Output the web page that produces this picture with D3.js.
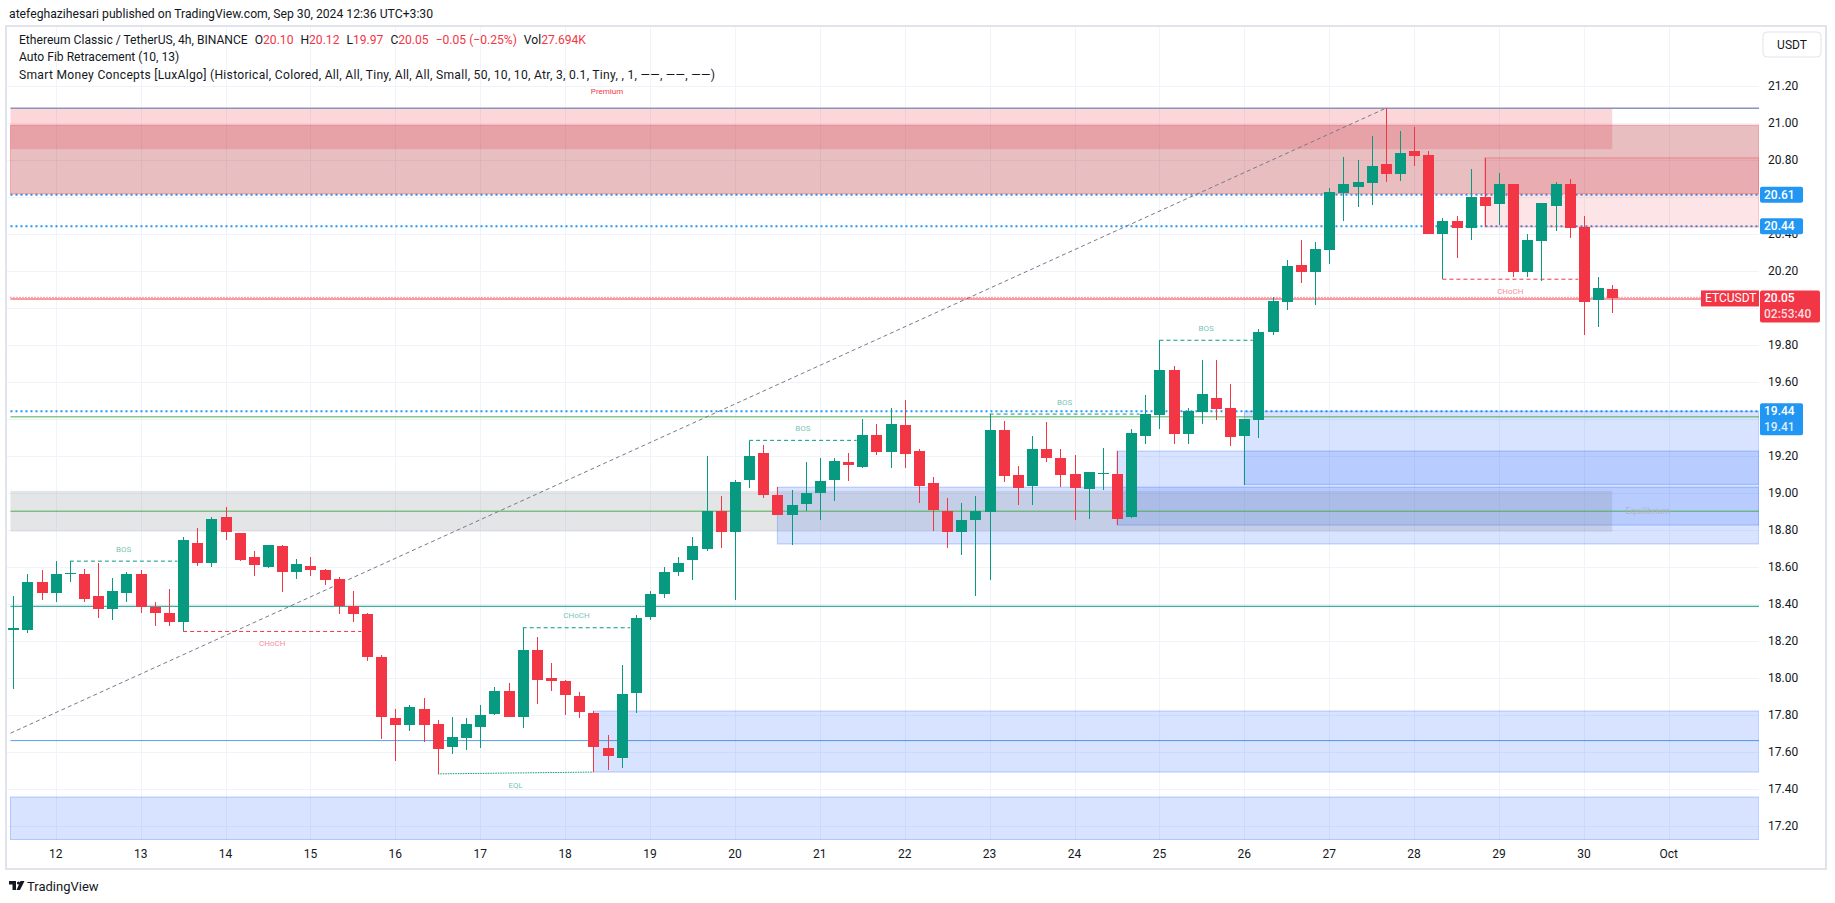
<!DOCTYPE html>
<html>
<head>
<meta charset="utf-8">
<script src="https://cdn.jsdelivr.net/npm/d3@7"></script>
<style>
  body { margin: 0; background: #fff; }
  svg text { font-family: Roboto, "Noto Sans", sans-serif; white-space: pre; }
</style>
</head>
<body>
<svg id="chart" width="1835" height="903"></svg>
<script>
// ETC/USDT 4h candles, Sep 11 - Sep 30
const opens = [18.26,18.26,18.52,18.46,18.56,18.56,18.44,18.37,18.46,18.56,18.38,18.35,18.30,18.73,18.62,18.87,18.78,18.65,18.60,18.71,
  18.57,18.605,18.58,18.535,18.39,18.345,18.11,17.78,17.745,17.83,17.75,17.625,17.675,17.735,17.805,17.93,17.79,18.15,18.00,17.98,
  17.90,17.81,17.62,17.565,17.915,18.33,18.45,18.57,18.635,18.695,18.90,18.79,19.07,19.215,18.99,18.88,18.94,19.00,19.07,19.165,
  19.14,19.31,19.22,19.365,19.225,19.05,18.90,18.79,18.855,18.895,19.34,19.095,19.035,19.235,19.19,19.10,19.02,19.10,19.10,18.87,
  19.305,19.42,19.665,19.315,19.435,19.51,19.46,19.305,19.395,19.87,20.03,20.23,20.195,20.31,20.62,20.652,20.673,20.776,20.722,20.845,
  20.824,20.397,20.468,20.43,20.597,20.56,20.668,20.192,20.36,20.549,20.668,20.435,20.043,20.10];
const highs = [18.44,18.56,18.58,18.63,18.63,18.59,18.62,18.54,18.57,18.58,18.41,18.48,18.76,18.81,18.87,18.92,18.78,18.685,18.72,18.72,
  18.64,18.65,18.59,18.545,18.47,18.35,18.12,17.83,17.85,17.89,17.77,17.79,17.78,17.85,17.95,17.97,18.27,18.22,18.08,17.99,
  17.92,17.82,17.69,18.07,18.34,18.47,18.60,18.65,18.76,19.20,18.98,19.07,19.28,19.26,19.03,19.015,19.165,19.19,19.19,19.215,
  19.40,19.37,19.46,19.50,19.235,19.085,18.97,18.945,18.98,19.425,19.39,19.145,19.305,19.38,19.235,19.205,19.11,19.24,19.225,19.345,
  19.53,19.825,19.685,19.46,19.72,19.72,19.59,19.40,19.885,20.06,20.26,20.365,20.354,20.646,20.813,20.796,20.93,21.078,20.955,20.976,
  20.845,20.484,20.495,20.75,20.81,20.727,20.668,20.397,20.565,20.68,20.695,20.495,20.165,20.12];
const lows = [17.94,18.24,18.42,18.41,18.52,18.41,18.32,18.31,18.41,18.35,18.28,18.28,18.25,18.605,18.60,18.745,18.63,18.55,18.595,18.465,
  18.535,18.55,18.50,18.345,18.30,18.09,17.67,17.55,17.71,17.655,17.48,17.59,17.61,17.62,17.80,17.79,17.73,17.86,17.93,17.80,
  17.78,17.49,17.50,17.51,17.81,18.31,18.43,18.55,18.53,18.685,18.70,18.42,19.025,18.97,18.88,18.72,18.90,18.85,18.955,19.065,
  19.135,19.205,19.135,19.135,18.945,18.795,18.70,18.665,18.44,18.53,19.06,18.935,18.935,19.165,19.03,18.85,18.86,19.015,18.825,18.865,
  19.265,19.345,19.265,19.265,19.37,19.395,19.25,19.04,19.295,19.85,19.99,20.135,20.015,20.235,20.468,20.544,20.555,20.68,20.684,20.765,
  20.397,20.154,20.268,20.365,20.435,20.446,20.165,20.165,20.143,20.414,20.376,19.85,19.895,19.97];
const closes = [18.27,18.52,18.46,18.56,18.565,18.425,18.37,18.47,18.56,18.38,18.35,18.30,18.745,18.62,18.86,18.79,18.635,18.61,18.72,18.57,
  18.615,18.58,18.53,18.39,18.345,18.11,17.79,17.745,17.84,17.745,17.615,17.68,17.75,17.80,17.93,17.79,18.15,17.99,17.98,17.905,
  17.815,17.625,17.575,17.91,18.32,18.45,18.57,18.62,18.71,18.90,18.79,19.06,19.20,18.99,18.88,18.935,19.00,19.065,19.17,19.15,
  19.31,19.22,19.37,19.21,19.035,18.905,18.79,18.85,18.90,19.34,19.09,19.025,19.235,19.19,19.095,19.025,19.11,19.105,18.86,19.32,
  19.425,19.665,19.315,19.44,19.535,19.455,19.30,19.40,19.87,20.035,20.225,20.195,20.316,20.624,20.668,20.678,20.765,20.722,20.835,20.82,
  20.397,20.468,20.43,20.597,20.549,20.668,20.192,20.365,20.565,20.668,20.43,20.03,20.107,20.05];

// time axis: a day label every 6 bars, first one on bar 3
const dayLabels = ["12","13","14","15","16","17","18","19","20","21","22","23","24","25","26","27","28","29","30","Oct"];
const priceTicks = d3.range(17.2, 21.21, 0.2);
// ticks covered by the price tags on the axis
const hiddenTicks = ["20.60", "20.00", "19.40"];

// boxes: [fromBar, toBar (null = right edge), top price, bottom price]
const premiumBox = [-0.2, 113, 21.078, 20.857];
const equilibriumBox = [-0.2, 113, 19.01, 18.79];
const bearBoxes = [[-0.2, null, 20.987, 20.615], [104, null, 20.81, 20.437]];
const bullBoxes = [[54, null, 19.03, 18.723], [78, null, 19.225, 18.825], [87, null, 19.44, 19.045],
  [41, null, 17.82, 17.49], [-0.2, null, 17.355, 17.125]];

// structure breaks: [fromBar, toBar, fromPrice, toPrice, label, bullish]
const structures = [
  [4, 11.6, 18.63, 18.63, "BOS", true],
  [12, 24.6, 18.25, 18.25, "CHoCH", false],
  [36, 43.6, 18.27, 18.27, "CHoCH", true],
  [30, 41, 17.48, 17.49, "EQL", true],
  [52, 59.6, 19.283, 19.283, "BOS", true],
  [69, 79.6, 19.425, 19.425, "BOS", true],
  [81, 87.6, 19.824, 19.824, "BOS", true],
  [101, 110.6, 20.154, 20.154, "CHoCH", false]
];

// auto fib trend line: [bar, price] -> [bar, price]
const fibTrend = [[-0.2, 17.70], [97, 21.078]];
const fibTop = 21.078;

// horizontal levels
const dottedLevels = [20.61, 20.44, 19.44];
const lastPrice = 20.05;
const equilibriumLevel = 18.90;
const greenLevel = 19.41;
const tealLevel = 18.386;
const blueLevel = 17.66;

// legend values
const legendParts = [["Ethereum Classic / TetherUS, 4h, BINANCE", 0], ["O", 0], ["20.10", 1], ["H", 0], ["20.12", 1],
  ["L", 0], ["19.97", 1], ["C", 0], ["20.05", 1], ["−0.05 (−0.25%)", 1], ["Vol", 0], ["27.694K", 1]];

const green = "#089981", red = "#f23645", blue = "#2196f3";

const svg = d3.select("#chart");
const plot = { left: 7, right: 1759, top: 27, bottom: 840 };

let x = d3.scaleLinear().domain([0, 117]).range([13.3, 1668.8]);
let y = d3.scaleLinear().domain([17.2, 21.2]).range([825.7, 85.7]);
let xr = function(v) { return v === null ? plot.right : x(v); };

svg.append("clipPath").attr("id", "clip")
  .append("rect").attr("x", plot.left).attr("y", plot.top)
  .attr("width", plot.right - plot.left).attr("height", plot.bottom - plot.top);

// frame
svg.append("rect").attr("x", 6).attr("y", 26).attr("width", 1820).attr("height", 843)
  .attr("fill", "none").attr("stroke", "#e0e3eb").attr("stroke-width", 2);

//Grid
let grid = svg.append("g").attr("clip-path", "url(#clip)");
grid.selectAll(".vg").data(dayLabels).enter().append("line")
  .attr("x1", function(d, i) { return Math.round(x(3 + 6 * i)) + 0.5; })
  .attr("x2", function(d, i) { return Math.round(x(3 + 6 * i)) + 0.5; })
  .attr("y1", plot.top).attr("y2", plot.bottom)
  .attr("stroke", "#f0f3fa");
grid.selectAll(".hg").data(priceTicks).enter().append("line")
  .attr("x1", plot.left).attr("x2", plot.right)
  .attr("y1", function(d) { return Math.round(y(d)) + 0.5; })
  .attr("y2", function(d) { return Math.round(y(d)) + 0.5; })
  .attr("stroke", "#f0f3fa");

let g = svg.append("g").attr("clip-path", "url(#clip)");

function hline(price, color, width, dash) {
  g.append("line").attr("x1", x(-0.2)).attr("x2", plot.right)
    .attr("y1", y(price)).attr("y2", y(price))
    .attr("stroke", color).attr("stroke-width", width)
    .attr("stroke-dasharray", dash || null);
}

// levels under the boxes
dottedLevels.forEach(function(p) { hline(p, blue, 2, "2,3"); });
hline(tealLevel, green, 1);
hline(blueLevel, "#5b9fe3", 1);

function box(b, fill, stroke) {
  g.append("rect")
    .attr("x", x(b[0])).attr("y", y(b[2]))
    .attr("width", xr(b[1]) - x(b[0])).attr("height", y(b[3]) - y(b[2]))
    .attr("fill", fill).attr("stroke", stroke || "none").attr("stroke-width", 1);
}

box(premiumBox, "rgba(242,54,69,0.2)");
bearBoxes.forEach(function(b, i) {
  box(b, i === 0 ? "rgba(178,40,51,0.3)" : "rgba(242,54,69,0.13)", "rgba(242,54,69,0.35)");
});
bullBoxes.forEach(function(b) { box(b, "rgba(41,98,255,0.18)", "rgba(41,98,255,0.3)"); });
box(equilibriumBox, "rgba(120,123,134,0.2)");

hline(equilibriumLevel, "#4caf50", 1);
hline(greenLevel, "#4caf50", 1);
hline(fibTop, "#8b93bd", 1.5);
hline(lastPrice - 0.003, red, 1);
hline(lastPrice + 0.006, red, 1, "1,2");

// fib trend
g.append("line")
  .attr("x1", x(fibTrend[0][0])).attr("y1", y(fibTrend[0][1]))
  .attr("x2", x(fibTrend[1][0])).attr("y2", y(fibTrend[1][1]))
  .attr("stroke", "#787b86").attr("stroke-dasharray", "4,3");

// BOS / CHoCH / EQL
structures.forEach(function(s) {
  let c = s[5] ? green : red;
  g.append("line")
    .attr("x1", x(s[0])).attr("x2", x(s[1]))
    .attr("y1", y(s[2])).attr("y2", y(s[3]))
    .attr("stroke", c).attr("stroke-dasharray", s[4] === "EQL" ? "1.5,1" : "4,3");
  g.append("text")
    .attr("x", (x(s[0]) + x(s[1])) / 2)
    .attr("y", y(s[2]) + (s[5] && s[4] !== "EQL" ? -12 : 12))
    .attr("text-anchor", "middle").attr("dominant-baseline", "central")
    .attr("font-size", 8).attr("fill", c).attr("fill-opacity", 0.6)
    .text(s[4]);
});

g.append("text").attr("x", 607).attr("y", 91).attr("text-anchor", "middle")
  .attr("dominant-baseline", "central").attr("font-size", 8).attr("fill", red).text("Premium");
g.append("text").attr("x", 1648).attr("y", y(equilibriumLevel)).attr("text-anchor", "middle")
  .attr("dominant-baseline", "central").attr("font-size", 9).attr("fill", "#b2b5be").text("Equilibrium");

// candles
let bars = g.selectAll(".bar").data(opens).enter().append("g");
bars.append("rect")
  .attr("x", function(d, i) { return Math.round(x(i)); })
  .attr("y", function(d, i) { return Math.round(y(highs[i])); })
  .attr("width", 1)
  .attr("height", function(d, i) { return Math.round(y(lows[i])) - Math.round(y(highs[i])); })
  .attr("fill", function(d, i) { return closes[i] >= d ? green : red; });
bars.append("rect")
  .attr("x", function(d, i) { return Math.round(x(i)) - 5; })
  .attr("y", function(d, i) { return Math.round(y(Math.max(d, closes[i]))); })
  .attr("width", 11)
  .attr("height", function(d, i) {
    return Math.max(1, Math.round(y(Math.min(d, closes[i]))) - Math.round(y(Math.max(d, closes[i]))));
  })
  .attr("fill", function(d, i) { return closes[i] >= d ? green : red; });

// ETCUSDT tag on the price line
g.append("rect").attr("x", 1701).attr("y", y(lastPrice) - 8).attr("width", 60).attr("height", 16).attr("fill", red);
g.append("text").attr("x", 1705).attr("y", y(lastPrice)).attr("dominant-baseline", "central")
  .attr("font-size", 12).attr("fill", "#fff").text("ETCUSDT");

// price axis
svg.selectAll(".pt").data(priceTicks.filter(function(d) { return hiddenTicks.indexOf(d.toFixed(2)) < 0; }))
  .enter().append("text")
  .attr("x", 1768).attr("y", function(d) { return y(d); })
  .attr("dominant-baseline", "central").attr("font-size", 12).attr("fill", "#131722")
  .text(function(d) { return d.toFixed(2); });

function priceTag(p, lines, color, w) {
  let h = 16 * lines.length;
  svg.append("rect").attr("x", 1760).attr("y", y(p) - 8).attr("width", w).attr("height", h)
    .attr("rx", 2).attr("fill", color);
  lines.forEach(function(t, k) {
    svg.append("text").attr("x", 1764).attr("y", y(p) + 16 * k)
      .attr("dominant-baseline", "central").attr("font-size", 12).attr("font-weight", 500)
      .attr("fill", "#fff").attr("fill-opacity", k ? 0.85 : 1).text(t);
  });
}
priceTag(20.61, ["20.61"], blue, 43);
priceTag(20.44, ["20.44"], blue, 43);
priceTag(19.44, ["19.44", "19.41"], blue, 43);
priceTag(lastPrice, ["20.05", "02:53:40"], red, 60);

// time axis
svg.selectAll(".dl").data(dayLabels).enter().append("text")
  .attr("x", function(d, i) { return x(3 + 6 * i); }).attr("y", 854)
  .attr("text-anchor", "middle").attr("dominant-baseline", "central")
  .attr("font-size", 12).attr("fill", "#131722")
  .text(function(d) { return d; });

// USDT button
svg.append("rect").attr("x", 1763).attr("y", 32).attr("width", 58).attr("height", 25).attr("rx", 4)
  .attr("fill", "#fff").attr("stroke", "#e0e3eb");
svg.append("text").attr("x", 1792).attr("y", 44.5).attr("text-anchor", "middle").attr("dominant-baseline", "central")
  .attr("font-size", 12).attr("fill", "#131722").text("USDT");

// header and legend
svg.append("text").attr("x", 9).attr("y", 14).attr("dominant-baseline", "central")
  .attr("font-size", 12.2).attr("fill", "#131722")
  .text("atefeghazihesari published on TradingView.com, Sep 30, 2024 12:36 UTC+3:30");

let leg = svg.append("text").attr("x", 19).attr("y", 40).attr("dominant-baseline", "central")
  .attr("font-size", 12.1).attr("fill", "#131722");
legendParts.forEach(function(p, i) {
  // value follows its letter directly, new groups get a gap
  let gap = (i === 0 || (p[1] && legendParts[i - 1][1] === 0)) ? 0 : 7;
  leg.append("tspan").attr("dx", gap).attr("fill", p[1] ? red : "#131722").text(p[0]);
});
svg.append("text").attr("x", 19).attr("y", 57).attr("dominant-baseline", "central")
  .attr("font-size", 12.1).attr("fill", "#131722").text("Auto Fib Retracement (10, 13)");
svg.append("text").attr("x", 19).attr("y", 75).attr("dominant-baseline", "central")
  .attr("font-size", 12.1).attr("fill", "#131722")
  .attr("textLength", 696).attr("lengthAdjust", "spacing")
  .text("Smart Money Concepts [LuxAlgo] (Historical, Colored, All, All, Tiny, All, All, Small, 50, 10, 10, Atr, 3, 0.1, Tiny, , 1, ——, ——, ——)");

// TradingView logo
let logo = svg.append("g").attr("fill", "#131722");
logo.append("path").attr("d", "M9,881 h7 v9 h-3.5 v-5.5 h-3.5 z");
logo.append("circle").attr("cx", 18.5).attr("cy", 883).attr("r", 1.6);
logo.append("path").attr("d", "M20.5,881 h4 l-4.5,9 h-3.5 z");
svg.append("text").attr("x", 27).attr("y", 886).attr("dominant-baseline", "central")
  .attr("font-size", 13).attr("fill", "#131722").text("TradingView");
</script>
</body>
</html>
